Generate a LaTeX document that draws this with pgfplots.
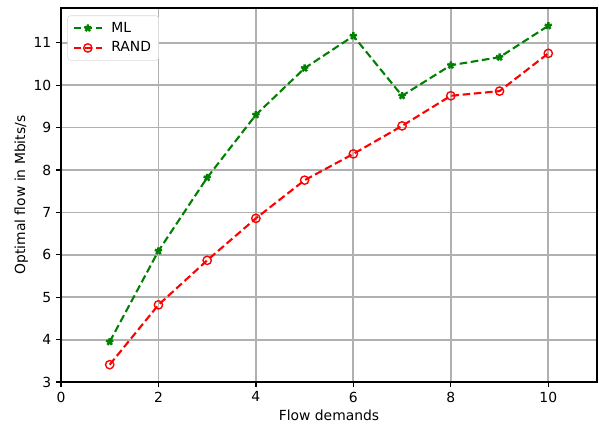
\documentclass[border=0pt]{standalone}
\usepackage{pgfplots}
\pgfplotsset{compat=1.18}
\usepackage{fontspec}
\setmainfont{DejaVu Sans}
\setsansfont{DejaVu Sans}

\pgfplotstableread{
x ml rand
1 3.95 3.41
2 6.09 4.82
3 7.82 5.87
4 9.30 6.86
5 10.40 7.76
6 11.16 8.38
7 9.75 9.04
8 10.47 9.75
9 10.66 9.86
10 11.40 10.75
}\flowdata

\begin{document}
\begin{tikzpicture}
\begin{axis}[
  name=ax,
  scale only axis,
  width=385.9pt, height=269.3pt,
  xmin=0, xmax=11, ymin=3, ymax=11.82,
  xtick={0,2,4,6,8,10},
  ytick={3,4,5,6,7,8,9,10,11},
  tick align=outside,
  tick pos=left,
  major tick length=3.5pt,
  tick style={black, line width=0.9pt},
  axis line style={black, line width=1.5pt},
  grid=major,
  major grid style={color=black!31, line width=1.3pt},
  /pgf/number format/assume math mode=true,
  ticklabel style={font=\fontsize{10}{12}\selectfont},
  label style={font=\fontsize{10}{12}\selectfont},
  xlabel={Flow demands},
  ylabel={Optimal flow in Mbits/s},
  xlabel style={at={(axis description cs:0.5,0)}, anchor=center, yshift=-24pt},
  ylabel style={at={(axis description cs:0,0.5)}, anchor=center, yshift=28.5pt},
  legend style={font=\fontsize{10}{12}\selectfont, draw=black!15, rounded corners=2pt,
    at={(0.012,0.98)}, anchor=north west, inner xsep=3.5pt, inner ysep=2.5pt,
    row sep=1.5pt, cells={anchor=west}},
  legend image code/.code={
    \draw[mark repeat=2, mark phase=2, #1] plot coordinates {(0cm,0cm) (0.36cm,0cm) (0.72cm,0cm)};
    \path (0.86cm,0cm);
  },
]
\addplot[color=green!50!black, line width=1.5pt, dash pattern=on 5.5pt off 2.6pt,
  mark=star, mark size=2.7pt, mark options={solid, fill=green!50!black, line width=1.8pt}]
  table[x=x, y=ml] {\flowdata};
\addlegendentry{ML}
\addplot[color=red, line width=1.5pt, dash pattern=on 5.5pt off 2.6pt,
  mark=o, mark size=3pt, mark options={solid, line width=1pt}]
  table[x=x, y=rand] {\flowdata};
\addlegendentry{RAND}
\end{axis}
\pgfresetboundingbox
\path[use as bounding box] ([xshift=-43.9pt, yshift=-29.5pt]ax.south west)
  rectangle ([xshift=1.44pt, yshift=5.76pt]ax.north east);
\end{tikzpicture}
\end{document}
